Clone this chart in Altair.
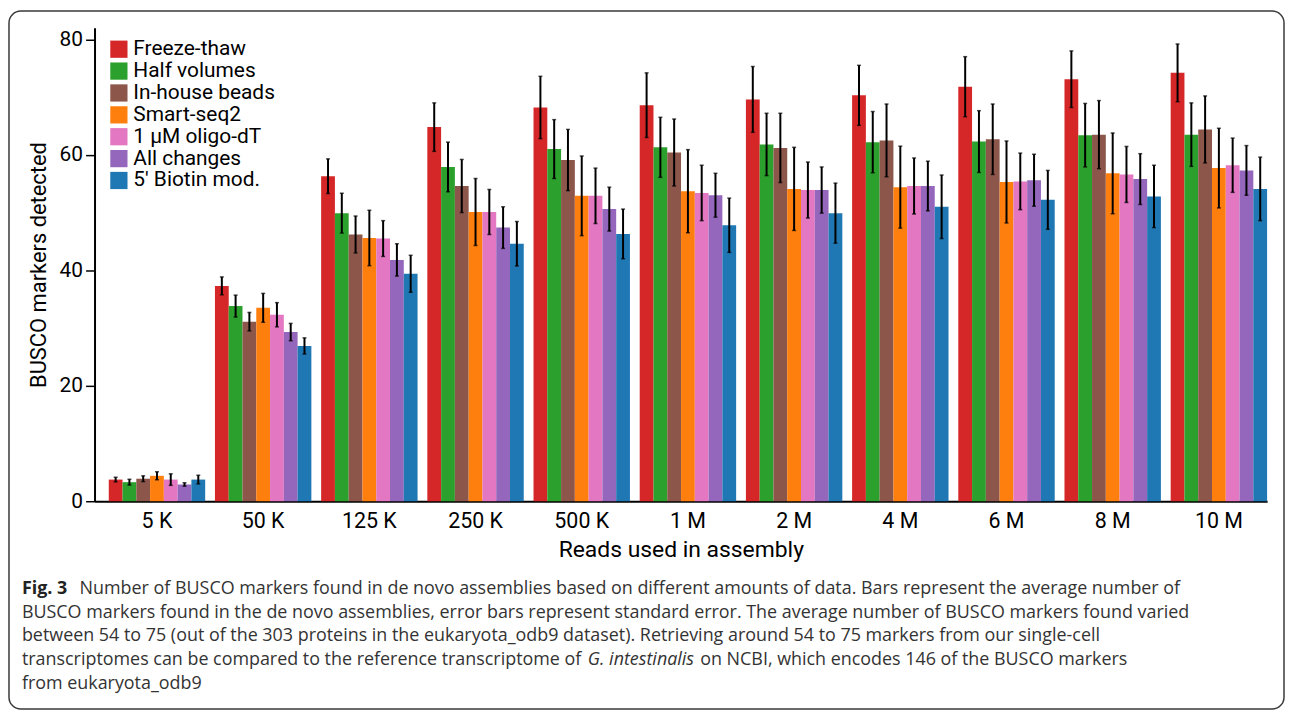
import altair as alt
import pandas as pd

groups = ["5 K", "50 K", "125 K", "250 K", "500 K", "1 M", "2 M", "4 M", "6 M", "8 M", "10 M"]
methods = ["Freeze-thaw", "Half volumes", "In-house beads", "Smart-seq2",
           "1 \u00b5M oligo-dT", "All changes", "5' Biotin mod."]
colors = ["#d62728", "#2ca02c", "#8c564b", "#ff7f0e", "#e377c2", "#9467bd", "#1f77b4"]

freeze_thaw = [3.75, 37.3, 56.3, 64.8, 68.2, 68.6, 69.6, 70.3, 71.8, 73.1, 74.2]
half_volumes = [3.3, 33.8, 49.9, 57.9, 61.0, 61.3, 61.8, 62.2, 62.3, 63.4, 63.5]
in_house_beads = [3.9, 31.1, 46.2, 54.6, 59.1, 60.4, 61.2, 62.5, 62.7, 63.5, 64.4]
smart_seq2 = [4.4, 33.5, 45.6, 50.1, 52.9, 53.7, 54.1, 54.4, 55.3, 56.8, 57.7]
oligo_dt = [3.75, 32.3, 45.5, 50.1, 52.9, 53.4, 53.9, 54.6, 55.4, 56.6, 58.2]
all_changes = [2.9, 29.3, 41.8, 47.4, 50.6, 53.0, 53.9, 54.6, 55.6, 55.8, 57.3]
biotin = [3.75, 26.9, 39.4, 44.6, 46.3, 47.8, 49.9, 51.0, 52.2, 52.8, 54.1]

err_freeze_thaw = [0.4, 1.55, 3.0, 4.2, 5.4, 5.6, 5.7, 5.2, 5.2, 4.9, 5.0]
err_half_volumes = [0.5, 1.9, 3.45, 4.3, 5.1, 5.2, 5.4, 5.3, 5.35, 5.5, 5.5]
err_in_house_beads = [0.5, 1.6, 3.2, 4.6, 5.3, 5.8, 6.0, 6.3, 6.1, 5.9, 5.8]
err_smart_seq2 = [0.7, 2.5, 4.8, 5.8, 6.9, 7.2, 7.2, 7.1, 7.1, 7.0, 6.9]
err_oligo_dt = [1.0, 2.1, 3.1, 3.9, 4.8, 4.8, 4.85, 4.85, 4.9, 4.85, 4.7]
err_all_changes = [0.3, 1.5, 2.8, 3.6, 3.8, 3.8, 4.0, 4.3, 4.5, 4.4, 4.3]
err_biotin = [0.75, 1.4, 3.2, 3.85, 4.3, 4.7, 5.2, 5.5, 5.1, 5.4, 5.5]

caption_fig = "Fig. 3"
caption_line1 = ("Number of BUSCO markers found in de novo assemblies based on different "
                 "amounts of data. Bars represent the average number of")
caption_line2 = ("BUSCO markers found in the de novo assemblies, error bars represent standard "
                 "error. The average number of BUSCO markers found varied")
caption_line3 = ("between 54 to 75 (out of the 303 proteins in the eukaryota_odb9 dataset). "
                 "Retrieving around 54 to 75 markers from our single-cell")
caption_line4a = "transcriptomes can be compared to the reference transcriptome of"
caption_line4b = "G. intestinalis"
caption_line4c = "on NCBI, which encodes 146 of the BUSCO markers"
caption_line5 = "from eukaryota_odb9"

means = [freeze_thaw, half_volumes, in_house_beads, smart_seq2, oligo_dt, all_changes, biotin]
errs = [err_freeze_thaw, err_half_volumes, err_in_house_beads, err_smart_seq2,
        err_oligo_dt, err_all_changes, err_biotin]

rows = []
for m, vals, es in zip(methods, means, errs):
    for g, v, e in zip(groups, vals, es):
        rows.append({"group": g, "method": m, "value": v, "lo": v - e, "hi": v + e})
df = pd.DataFrame(rows)

FONT = "Roboto"
CAP_FONT = "Open Sans"

xscale = alt.Scale(domain=groups, paddingInner=0.092, paddingOuter=0.067, align=1)
xoff = alt.XOffset("method:N", sort=methods,
                   scale=alt.Scale(domain=methods, paddingInner=0, paddingOuter=0))
yscale = alt.Scale(domain=[0, 82], nice=False)

base = alt.Chart(df)

bars = base.mark_bar().encode(
    x=alt.X("group:N", sort=groups, scale=xscale,
            axis=alt.Axis(title="Reads used in assembly", labelAngle=0, ticks=False,
                          labelFontSize=21.5, labelFont=FONT, labelColor="black",
                          labelPadding=9, domainColor="black", domainWidth=2,
                          titleFontSize=23, titleFont=FONT, titleFontWeight="normal",
                          titleColor="black", titlePadding=7)),
    xOffset=xoff,
    y=alt.Y("value:Q", scale=yscale,
            axis=alt.Axis(title="BUSCO markers detected", values=[0, 20, 40, 60, 80],
                          grid=False, tickSize=9, tickWidth=1.5, tickColor="black",
                          domainColor="black", domainWidth=2,
                          labelFontSize=21, labelFont=FONT, labelColor="black",
                          labelPadding=3, titleFontSize=22, titleFont=FONT,
                          titleFontWeight="normal", titleColor="black", titlePadding=9)),
    color=alt.Color("method:N", sort=methods,
                    scale=alt.Scale(domain=methods, range=colors),
                    legend=alt.Legend(title=None, orient="none", legendX=14, legendY=11,
                                      symbolType="square", symbolSize=300,
                                      symbolStrokeWidth=0, labelFontSize=21,
                                      labelFont=FONT, labelColor="black",
                                      rowPadding=0, padding=0, labelOffset=4)),
)

rules = base.mark_rule(color="black", strokeWidth=2).encode(
    x=alt.X("group:N", sort=groups, scale=xscale),
    xOffset=xoff,
    y=alt.Y("lo:Q", scale=yscale),
    y2="hi:Q",
)
cap_lo = base.mark_tick(color="black", thickness=1.5, size=4).encode(
    x=alt.X("group:N", sort=groups, scale=xscale),
    xOffset=xoff,
    y=alt.Y("lo:Q", scale=yscale),
)
cap_hi = base.mark_tick(color="black", thickness=1.5, size=4).encode(
    x=alt.X("group:N", sort=groups, scale=xscale),
    xOffset=xoff,
    y=alt.Y("hi:Q", scale=yscale),
)

one = alt.Data(values=[{}])
frame = alt.Chart(one).mark_rect(fill="white", fillOpacity=0, stroke="#3a3a3a",
                                 strokeWidth=1.5, cornerRadius=12).encode(
    x=alt.value(-86), x2=alt.value(1196), y=alt.value(-17), y2=alt.value(685))


def cap(text, x, y, weight="normal", style="normal", color="#333333"):
    return alt.Chart(one).mark_text(text=text, align="left", baseline="middle",
                                    font=CAP_FONT, fontSize=18, fontWeight=weight,
                                    fontStyle=style, color=color).encode(
        x=alt.value(x), y=alt.value(y))


captions = [
    cap(caption_fig, -73, 564, weight="bold", color="#222222"),
    cap(caption_line1, -15, 564),
    cap(caption_line2, -73, 588),
    cap(caption_line3, -73, 612),
    cap(caption_line4a, -73, 636),
    cap(caption_line4b, 496, 636, style="italic"),
    cap(caption_line4c, 609, 636),
    cap(caption_line5, -73, 660),
]

chart = alt.layer(frame, bars, rules, cap_lo, cap_hi, *captions).properties(
    width=1179, height=476, padding=0
).configure_view(stroke=None)

chart.save("out.html", embed_options={"renderer": "svg", "actions": False})
